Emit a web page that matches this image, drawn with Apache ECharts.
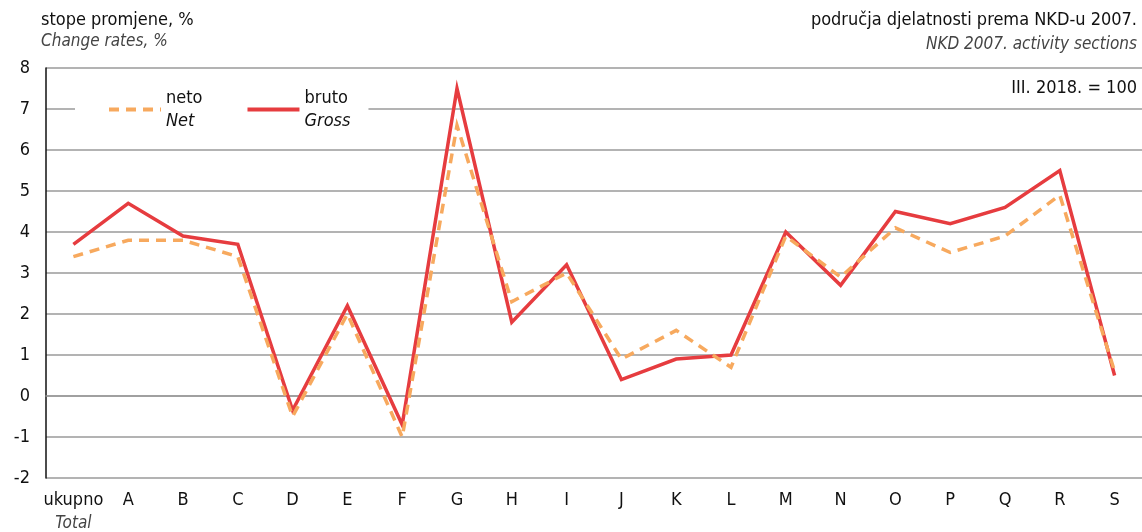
<!DOCTYPE html>
<html><head><meta charset="utf-8">
<script src="https://cdn.jsdelivr.net/npm/echarts@6/dist/echarts.min.js"></script>
<style>html,body{margin:0;padding:0;background:#fff}#c{width:1142px;height:532px}</style>
</head><body><div id="c"></div>
<script>
const categories = ['ukupno','A','B','C','D','E','F','G','H','I','J','K','L','M','N','O','P','Q','R','S'];
const neto  = [3.4, 3.8, 3.8, 3.4, -0.5, 2.0, -1.0, 6.6, 2.3, 3.0, 0.9, 1.6, 0.7, 3.9, 2.9, 4.1, 3.5, 3.9, 4.9, 0.6];
const bruto = [3.7, 4.7, 3.9, 3.7, -0.35, 2.2, -0.7, 7.5, 1.8, 3.2, 0.4, 0.9, 1.0, 4.0, 2.7, 4.5, 4.2, 4.6, 5.5, 0.5];
const yTicks = [-2,-1,0,1,2,3,4,5,6,7,8];
const FONT = '"Liberation Sans Narrow","DejaVu Sans Condensed","Liberation Sans",sans-serif';

const chart = echarts.init(document.getElementById('c'));
chart.setOption({
  animation: false,
  textStyle: { fontFamily: FONT },
  grid: { left: 46, right: 0, top: 68, bottom: 54, outerBoundsMode: 'none' },
  title: [
    { text: 'stope promjene, %', subtext: 'Change rates, %', left: 36, top: 6, itemGap: 4,
      textStyle: { fontFamily: FONT, fontSize: 18, fontWeight: 'normal', color: '#111' },
      subtextStyle: { fontFamily: FONT, fontSize: 17, fontStyle: 'italic', color: '#444' } },
    { text: 'područja djelatnosti prema NKD-u 2007.', right: 0, top: 6,
      textStyle: { fontFamily: FONT, fontSize: 18, fontWeight: 'normal', color: '#111' } },
    { text: 'NKD 2007. activity sections', right: 0, top: 31,
      textStyle: { fontFamily: FONT, fontSize: 17, fontStyle: 'italic', fontWeight: 'normal', color: '#444' } },
    { text: 'III. 2018. = 100', right: 0, top: 74,
      textStyle: { fontFamily: FONT, fontSize: 18, fontWeight: 'normal', color: '#111' } }
  ],
  legend: {
    left: 75, top: 83, padding: [6, 18, 6, 32], itemGap: 43,
    backgroundColor: '#fff', itemWidth: 52, itemHeight: 14,
    data: ['neto', 'bruto'],
    itemStyle: { opacity: 0 },
    lineStyle: { width: 4 },
    formatter: function (n) { return n === 'neto' ? '{a|neto}\n{b|Net}' : '{a|bruto}\n{b|Gross}'; },
    textStyle: { rich: {
      a: { fontFamily: FONT, fontSize: 18, color: '#111', lineHeight: 23 },
      b: { fontFamily: FONT, fontSize: 18, fontStyle: 'italic', color: '#111', lineHeight: 23 }
    } }
  },
  xAxis: {
    type: 'category', data: categories, boundaryGap: true,
    axisLine: { show: true, lineStyle: { color: '#9a9a9a', width: 1.5 } },
    axisTick: { show: false },
    axisLabel: {
      interval: 0, margin: 10, color: '#111', fontSize: 18, fontFamily: FONT,
      formatter: function (v) { return v === 'ukupno' ? '{u|ukupno}\n{t|Total}' : '{a|' + v + '}'; },
      rich: {
        a: { fontFamily: FONT, fontSize: 18, color: '#111', lineHeight: 24 },
        u: { fontFamily: FONT, fontSize: 18, color: '#111', lineHeight: 24, width: 60, align: 'center' },
        t: { fontFamily: FONT, fontSize: 17, fontStyle: 'italic', color: '#444', lineHeight: 24, width: 60, align: 'center' }
      }
    }
  },
  yAxis: {
    type: 'value', min: -2, max: 8, interval: 1,
    axisLine: { show: true, lineStyle: { color: '#111', width: 1.5 } },
    axisTick: { show: false },
    axisLabel: { margin: 16, color: '#111', fontSize: 18, fontFamily: FONT,
      formatter: function (v) { return yTicks.indexOf(v) >= 0 ? String(v) : ''; } },
    splitLine: { lineStyle: { color: '#9a9a9a', width: 1.5 } }
  },
  series: [
    { name: 'bruto', type: 'line', data: bruto, symbol: 'none', z: 3,
      lineStyle: { color: '#e63c3f', width: 3.5, join: 'miter' }, itemStyle: { color: '#e63c3f' } },
    { name: 'neto', type: 'line', data: neto, symbol: 'none', z: 4,
      lineStyle: { color: '#f7a95e', width: 3.5, type: [10, 7], join: 'miter' }, itemStyle: { color: '#f7a95e' } }
  ]
});
</script></body></html>
